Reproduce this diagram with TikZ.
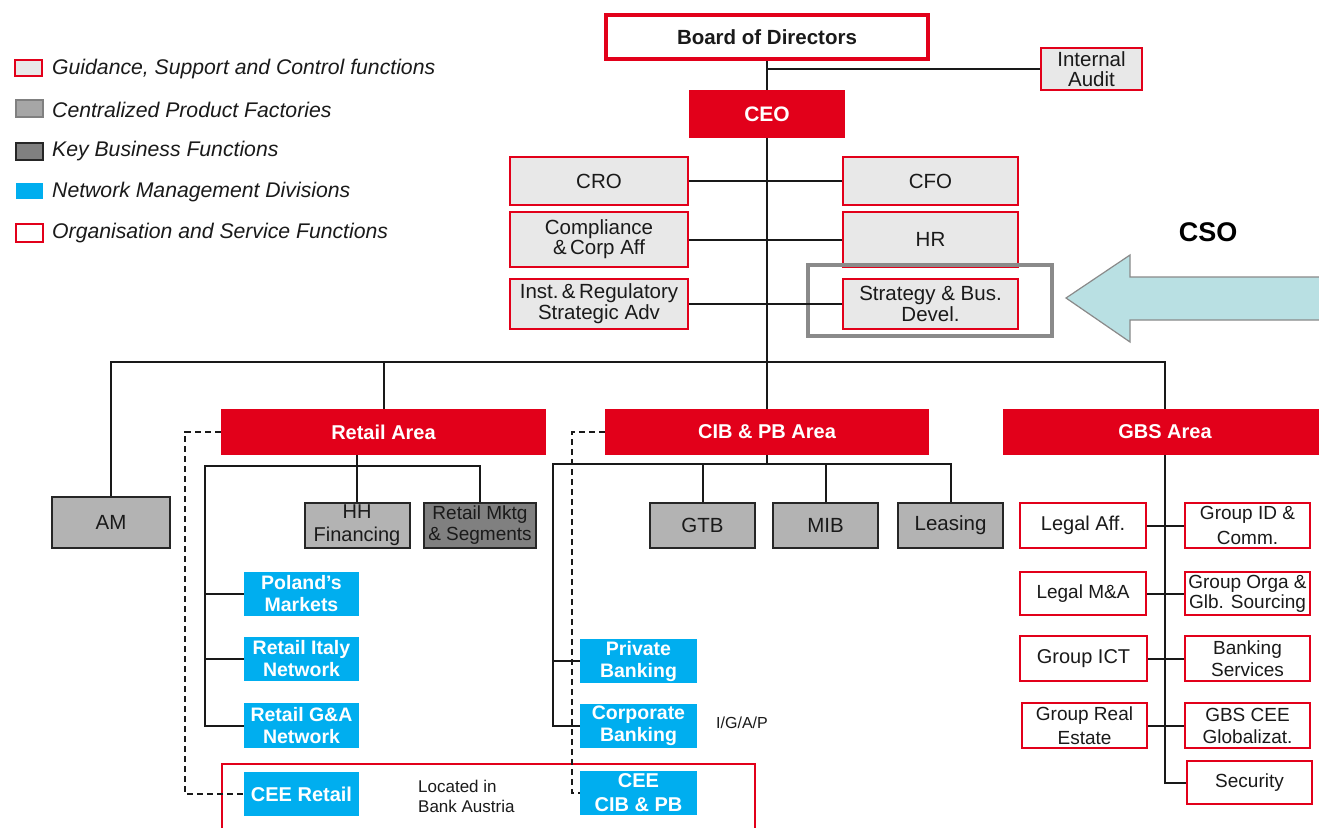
\documentclass[tikz,border=0pt]{standalone}
\usepackage{fontspec}
\setmainfont{Liberation Sans}
\definecolor{ured}{HTML}{E2001A}
\definecolor{ublue}{HTML}{00AEEF}
\definecolor{lgray}{HTML}{E8E8E8}
\definecolor{mgray}{HTML}{B3B3B3}
\definecolor{dgray}{HTML}{808080}
\definecolor{leg2}{HTML}{A6A6A6}
\definecolor{hlgray}{HTML}{8A8A8A}
\definecolor{arrowfill}{HTML}{B9E0E3}
\definecolor{txt}{HTML}{1A1A1A}
\tikzset{
  box/.style={rectangle, inner sep=0pt, align=center, text=txt, font=\fontsize{20.5}{21}\selectfont},
  gsc/.style={box, draw=ured, fill=lgray, line width=2pt},
  osf/.style={box, draw=ured, fill=white, line width=2pt, font=\fontsize{19}{22}\selectfont},
  cpf/.style={box, draw=black!85, fill=mgray, line width=2pt},
  kbf/.style={box, draw=black!85, fill=dgray, line width=2pt, font=\fontsize{19}{21}\selectfont},
  nmd/.style={box, fill=ublue, text=white, font=\bfseries\fontsize{19.5}{22}\selectfont},
  area/.style={box, fill=ured, text=white, font=\bfseries\fontsize{20}{22}\selectfont},
  conn/.style={draw=black!90, line width=2pt},
  dconn/.style={draw=black!90, line width=1.8pt, dash pattern=on 6pt off 4pt},
  sz/.style 2 args={minimum width=#1pt, minimum height=#2pt},
  legtext/.style={anchor=west, inner sep=0pt, text=txt, font=\itshape\fontsize{21.2}{23}\selectfont},
  plain/.style={inner sep=0pt, text=txt},
}
\begin{document}
\begin{tikzpicture}[x=1pt,y=-1pt]
\useasboundingbox (0,0) rectangle (1319,827);
\fill[white] (0,0) rectangle (1319,827);

% legend
\node[gsc, sz={27}{16}, line width=1.5pt] (lg1) at (28.5,68) {};
\node[box, draw=dgray, fill=leg2, line width=1.5pt, sz={27}{17}] (lg2) at (29.5,108.5) {};
\node[box, draw=black!85, fill=dgray, line width=1.5pt, sz={27}{17}] (lg3) at (29.5,151.5) {};
\node[box, fill=ublue, sz={27}{16}] (lg4) at (29.5,191) {};
\node[box, draw=ured, fill=white, line width=1.5pt, sz={27}{18}] (lg5) at (29.5,233) {};
\node[legtext] (lt1) at (52,69) {Guidance, Support and Control functions};
\node[legtext] (lt2) at (52,110) {Centralized Product Factories};
\node[legtext] (lt3) at (52,151) {Key Business Functions};
\node[legtext] (lt4) at (52,192) {Network Management Divisions};
\node[legtext] (lt5) at (52,233) {Organisation and Service Functions};

% top
\node[box, draw=ured, fill=white, line width=4pt, sz={322}{44}, font=\bfseries\fontsize{20.5}{22}\selectfont] (board) at (767,37) {Board of Directors};
\node[gsc, sz={101}{42}] (ia) at (1091.5,69) {Internal\\[-1pt]Audit};
\node[area, sz={156}{48}, font=\bfseries\fontsize{21}{22}\selectfont] (ceo) at (767,114) {CEO};
\node[gsc, sz={178}{48}] (cro) at (599,181) {CRO};
\node[gsc, sz={175}{48}] (cfo) at (930.5,181) {CFO};
\node[gsc, sz={178}{55}] (comp) at (599,239.5) {Compliance\\[-1pt]\&\,Corp Aff};
\node[gsc, sz={175}{55}] (hr) at (930.5,239.5) {HR};
\node[gsc, sz={178}{50}] (inst) at (599,304) {Inst.\,\&\,Regulatory\\Strategic Adv};
\node[gsc, sz={175}{50}] (strat) at (930.5,304) {Strategy \& Bus.\\Devel.};

\draw[hlgray, line width=4pt] (808,265) rectangle (1052,336);
\draw[draw=hlgray, fill=arrowfill, line width=1.2pt] (1066,298) -- (1130,255) -- (1130,277) -- (1330,277) -- (1330,320) -- (1130,320) -- (1130,342) -- cycle;
\node[plain, text=black, font=\bfseries\fontsize{27}{30}\selectfont] (cso) at (1208,232) {CSO};

% areas
\node[cpf, sz={118}{51}] (am) at (111,522.5) {AM};
\node[area, sz={325}{46}] (retail) at (383.5,432) {Retail Area};
\node[area, sz={324}{46}] (cib) at (767,432) {CIB \& PB Area};
\node[area, sz={324}{46}] (gbs) at (1165,432) {};
\node[plain, text=white, font=\bfseries\fontsize{20}{22}\selectfont] (gbst) at (1165,432) {GBS Area};

% retail
\draw[ured, line width=1.5pt] (222,764) rectangle (755,840);
\node[cpf, sz={105}{45}, font=\fontsize{20}{23}\selectfont] (hh) at (357,525.5) {HH\\Financing};
\node[kbf, sz={112}{45}] (mktg) at (480,525.5) {Retail Mktg\\\& Segments};
\node[nmd, sz={115}{44}] (poland) at (301.5,594) {Poland’s\\Markets};
\node[nmd, sz={115}{44}] (italy) at (301.5,659) {Retail Italy\\Network};
\node[nmd, sz={115}{45}] (ga) at (301.5,725.5) {Retail G\&A\\Network};
\node[nmd, sz={115}{44}, font=\bfseries\fontsize{20}{22}\selectfont] (ceeret) at (301.5,794) {CEE Retail};
\node[plain, anchor=west, align=left, font=\fontsize{17}{20}\selectfont] (loc) at (418,796) {Located in\\Bank Austria};

% cib
\node[cpf, sz={105}{45}] (gtb) at (702.5,525.5) {GTB};
\node[cpf, sz={105}{45}] (mib) at (825.5,525.5) {MIB};
\node[cpf, sz={105}{45}] (leasing) at (950.5,525.5) {Leasing};
\node[nmd, sz={117}{44}] (pb) at (638.5,661) {Private\\Banking};
\node[nmd, sz={117}{44}] (corp) at (638.5,726) {Corporate\\Banking};
\node[nmd, sz={117}{44}, font=\bfseries\fontsize{20}{24}\selectfont] (ceecib) at (638.5,793) {CEE\\CIB \& PB};
\node[plain, anchor=west, font=\fontsize{16}{18}\selectfont] (igap) at (716,723) {I/G/A/P};

% gbs
\node[osf, sz={126}{45}, font=\fontsize{20}{22}\selectfont] (legalaff) at (1083,525.5) {Legal Aff.};
\node[osf, sz={125}{45}, font=\fontsize{19}{25}\selectfont] (gid) at (1247.5,525.5) {Group ID \&\\Comm.};
\node[osf, sz={126}{43}] (legalma) at (1083,593.5) {Legal M\&A};
\node[osf, sz={125}{43}, font=\fontsize{19}{20}\selectfont] (gorga) at (1247.5,593.5) {Group Orga \&\\Glb. Sourcing};
\node[osf, sz={127}{45}, font=\fontsize{20}{22}\selectfont] (gict) at (1083.5,658.5) {Group ICT};
\node[osf, sz={125}{45}] (banking) at (1247.5,658.5) {Banking\\Services};
\node[osf, sz={125}{45}, font=\fontsize{19}{24}\selectfont] (gre) at (1084.5,725.5) {Group Real\\Estate};
\node[osf, sz={125}{45}] (gbscee) at (1247.5,725.5) {GBS CEE\\Globalizat.};
\node[osf, sz={125}{43}] (security) at (1249.5,782.5) {Security};

% connectors
\coordinate (hub) at (767,362);
\coordinate (rtop) at (357,466);
\coordinate (rl) at (205,466);
\coordinate (cl) at (553,464);
\coordinate (rd) at (185,432);
\coordinate (cd) at (572,432);

\draw[conn] (board.south) -- (ceo.north);
\draw[conn] (board.south |- ia.west) -- (ia.west);
\draw[conn] (ceo.south) -- (cib.north);
\draw[conn] (cro.east) -- (cfo.west);
\draw[conn] (comp.east) -- (hr.west);
\draw[conn] (inst.east) -- (strat.west);
\draw[conn] (am.north) -- (am.north |- hub) -- (gbs.north |- hub) -- (gbs.north);
\draw[conn] (retail.north |- hub) -- (retail.north);

\draw[conn] (retail.south -| rtop) -- (hh.north);
\draw[conn] (mktg.north) -- (mktg.north |- rl) -- (rl) -- (rl |- ga.west) -- (ga.west);
\draw[conn] (rl |- poland.west) -- (poland.west);
\draw[conn] (rl |- italy.west) -- (italy.west);

\draw[conn] (cib.south) -- (cib.south |- cl);
\draw[conn] (leasing.north) -- (leasing.north |- cl) -- (cl) -- (cl |- corp.west) -- (corp.west);
\draw[conn] (gtb.north) -- (gtb.north |- cl);
\draw[conn] (mib.north) -- (mib.north |- cl);
\draw[conn] (cl |- pb.west) -- (pb.west);

\draw[dconn] (retail.west) -- (retail.west -| rd) |- (ceeret.west);
\draw[dconn] (cib.west) -- (cib.west -| cd) |- (ceecib.west);

\draw[conn] (gbs.south) -- (gbs.south |- security.west) -- (security.west);
\draw[conn] (legalaff.east) -- (gid.west);
\draw[conn] (legalma.east) -- (gorga.west);
\draw[conn] (gict.east) -- (banking.west);
\draw[conn] (gre.east) -- (gbscee.west);
\end{tikzpicture}
\end{document}
